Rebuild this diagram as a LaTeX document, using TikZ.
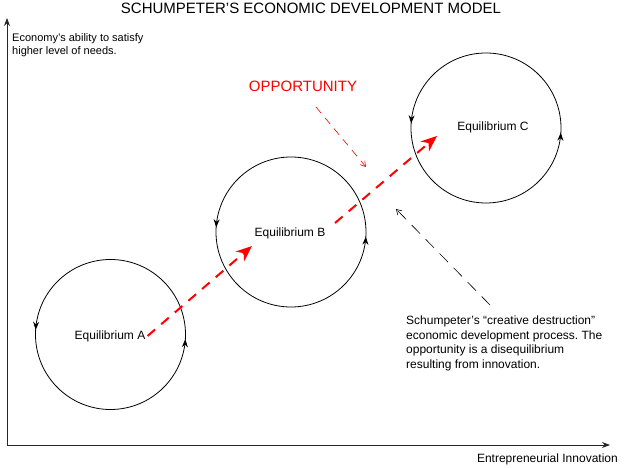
\documentclass[tikz,border=0pt]{standalone}
\usepackage{fontspec}
\setmainfont{Liberation Sans}
\frenchspacing
\usetikzlibrary{arrows.meta,decorations.markings}
\begin{document}
\begin{tikzpicture}[x=1pt,y=1pt,
  eqcircle/.style={draw, line width=0.8pt, postaction={decorate},
    decoration={markings,
      mark=at position 0.49 with {\arrow{Stealth[length=8pt,width=6pt]}},
      mark=at position 0.99 with {\arrow{Stealth[length=8pt,width=6pt]}}}},
  eqlabel/.style={inner sep=0pt, font=\fontsize{12}{14}\selectfont},
  axis/.style={draw=black!85, line width=0.9pt, -{Stealth[length=8pt,width=6pt]}},
  bigred/.style={draw=red, line width=2pt, dash pattern=on 10pt off 8pt,
    -{Stealth[length=16pt,width=13pt,inset=5pt]}},
  thinred/.style={draw=red, line width=0.6pt, dash pattern=on 8pt off 6pt,
    -{Straight Barb[length=5pt,width=6pt]}},
  thinblack/.style={draw=black, line width=0.6pt, dash pattern=on 12pt off 8pt,
    -{Straight Barb[length=5pt,width=6pt]}},
  txt/.style={inner sep=0pt, align=left}
]
\useasboundingbox (0,0) rectangle (624,468);

% axes
\coordinate (origin) at (7,23);
\coordinate (ytip) at (7,450);
\coordinate (xtip) at (610,23);
\draw[axis] (origin) -- (ytip);
\draw[axis] (origin) -- (xtip);

% title and axis labels
\node[txt, font=\fontsize{15}{18}\selectfont] (title) at (311,460) {SCHUMPETER'S ECONOMIC DEVELOPMENT MODEL};
\node[txt, anchor=north west, font=\fontsize{11}{13.5}\selectfont] (ylab) at (12,435)
  {Economy's ability to satisfy\\higher level of needs.};
\node[txt, anchor=east, font=\fontsize{12}{14}\selectfont] (xlab) at (618,9) {Entrepreneurial Innovation};

% circles
\coordinate (oA) at (110.5,133.5);
\coordinate (oB) at (291,236);
\coordinate (oC) at (486,340);
\draw[eqcircle] (oA) ++(0:75) arc[start angle=0,end angle=360,radius=75];
\draw[eqcircle] (oB) ++(0:75) arc[start angle=0,end angle=360,radius=75];
\draw[eqcircle] (oC) ++(0:75) arc[start angle=0,end angle=360,radius=75];

\node[eqlabel] (eqA) at (110,132) {Equilibrium A};
\node[eqlabel] (eqB) at (290,235) {Equilibrium B};
\node[eqlabel] (eqC) at (493,341) {Equilibrium C};

% red transition arrows
\coordinate (tipB) at (252,222);
\coordinate (startB) at (335,245);
\coordinate (tipC) at (437,332);
\draw[bigred] ([xshift=2pt]eqA.east) -- (tipB);
\draw[bigred] (startB) -- (tipC);

% opportunity
\node[txt, text=red, font=\fontsize{15}{18}\selectfont] (opp) at (303,382) {OPPORTUNITY};
\coordinate (oppS) at (316,361);
\coordinate (oppE) at (366,301);
\draw[thinred] (oppS) -- (oppE);

% explanation
\node[txt, anchor=north west, font=\fontsize{12}{14.5}\selectfont] (expl) at (406,152)
  {Schumpeter's “creative destruction”\\economic development process. The\\opportunity is a disequilibrium\\resulting from innovation.};
\coordinate (blkS) at (490,163);
\coordinate (blkE) at (396,259);
\draw[thinblack] (blkS) -- (blkE);
\end{tikzpicture}
\end{document}
